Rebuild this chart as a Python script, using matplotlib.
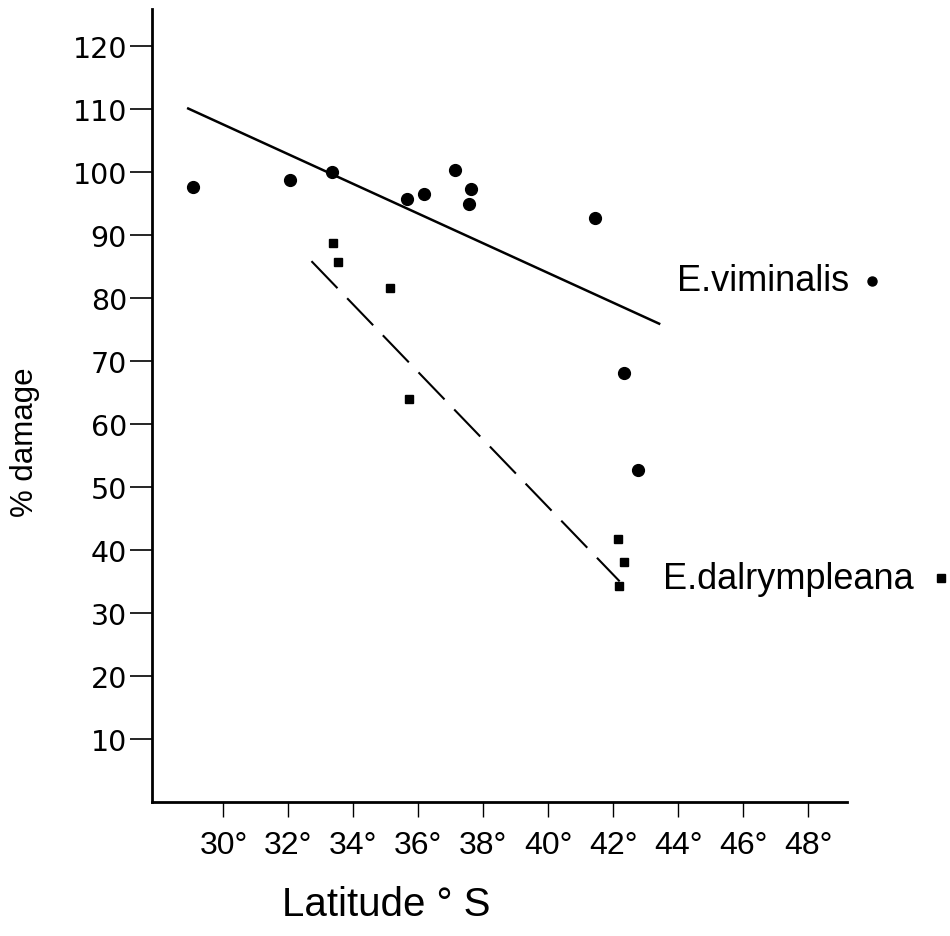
import numpy as np
import matplotlib
matplotlib.use("Agg")
import matplotlib.pyplot as plt

# E. viminalis (circulos)
vim_lat = [29.07, 32.04, 33.34, 35.65, 36.19, 37.14, 37.62, 37.55, 41.45, 42.32, 42.77]
vim_dmg = [97.6, 98.7, 100.0, 95.7, 96.5, 100.2, 97.3, 94.9, 92.7, 68.1, 52.7]
# E. dalrympleana (cuadrados)
dal_lat = [33.36, 33.53, 35.12, 35.72, 42.14, 42.32, 42.18]
dal_dmg = [88.7, 85.7, 81.6, 64.0, 41.7, 38.1, 34.3]
# rectas de ajuste (extremos)
vim_fit_lat = [28.88, 43.45]
vim_fit_dmg = [110.1, 75.8]
dal_fit_lat = [32.71, 42.2]
dal_fit_dmg = [85.8, 35.0]

xticks = [30, 32, 34, 36, 38, 40, 42, 44, 46, 48]
xtick_labels = [str(t) + "°" for t in xticks]
yticks = [10, 20, 30, 40, 50, 60, 70, 80, 90, 100, 110, 120]

# etiquetas de especie: (texto, x del texto, x del simbolo, y)
lab_vim = ("E.viminalis", 43.97, 49.97, 82.7)
lab_dal = ("E.dalrympleana", 43.54, 52.1, 35.5)

plt.rcParams['font.family'] = ['Liberation Sans', 'DejaVu Sans']

fig = plt.figure(figsize=(9.5, 9.37), dpi=100)
ax = fig.add_axes([0.16, 0.143, 0.7316, 0.8463])

ax.plot(vim_fit_lat, vim_fit_dmg, color="black", lw=1.8, solid_capstyle="butt")
ax.plot(dal_fit_lat, dal_fit_dmg, color="black", lw=1.5, dashes=(18, 6.7))
ax.plot(vim_lat, vim_dmg, "o", color="black", ms=8.5)
ax.plot(dal_lat, dal_dmg, "s", color="black", ms=6)

# etiquetas al lado derecho
ax.text(lab_vim[1], lab_vim[3], lab_vim[0], fontsize=26, va="center", ha="left")
ax.plot(lab_vim[2], lab_vim[3], "o", color="black", ms=6.5, clip_on=False)
ax.text(lab_dal[1], lab_dal[3], lab_dal[0], fontsize=26, va="center", ha="left")
ax.plot(lab_dal[2], lab_dal[3], "s", color="black", ms=5.5, clip_on=False)

ax.set_xlim(27.8, 49.2)
ax.set_ylim(0, 125.8)
ax.set_xticks(xticks)
ax.set_xticklabels(xtick_labels, fontsize=23)
ax.set_yticks(yticks)
ax.set_yticklabels([str(t) for t in yticks], fontsize=20.5, family="DejaVu Sans")
ax.tick_params(axis="y", direction="out", length=16, width=1.2, pad=2)
ax.tick_params(axis="x", direction="out", length=11, width=1.0, pad=9)

for s in ["top", "right"]:
    ax.spines[s].set_visible(False)
for s in ["left", "bottom"]:
    ax.spines[s].set_linewidth(2)

fig.text(386 / 950, 1 - 905 / 937, "Latitude ° S", fontsize=29, ha="center", va="center")
fig.text(25 / 950, 1 - 442 / 937, "% damage", fontsize=22.5, ha="center", va="center", rotation=90)

fig.savefig("out.png", dpi=100)
